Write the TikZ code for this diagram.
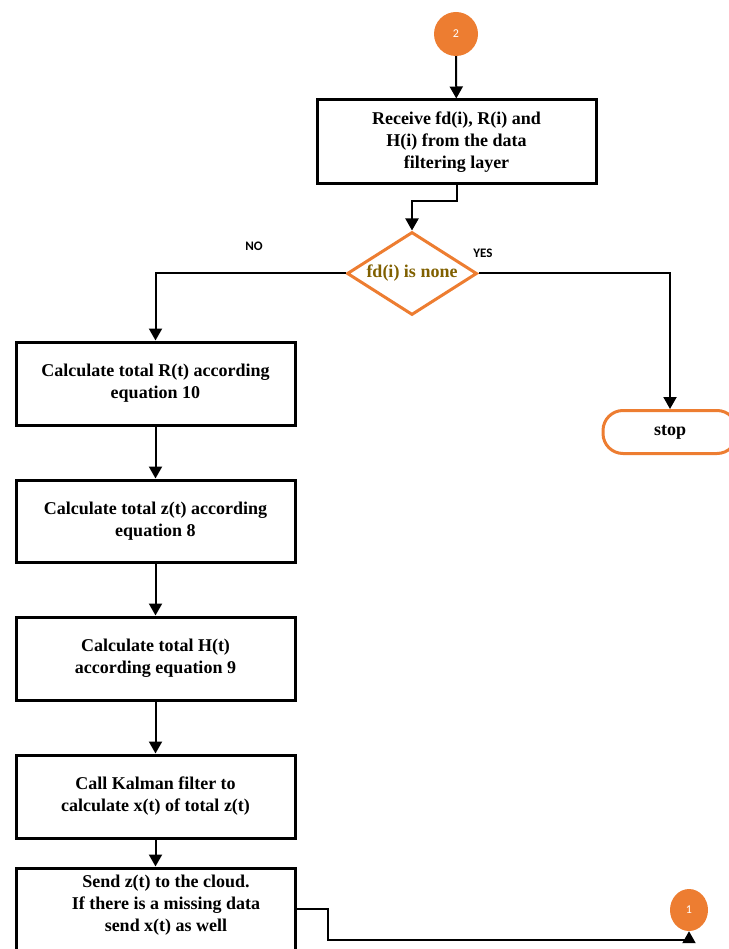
\documentclass[tikz,border=0pt]{standalone}
\usepackage{fontspec}
\setmainfont{Liberation Serif}
\newfontfamily\labfont{Carlito}
\usetikzlibrary{arrows.meta,shapes.geometric}
\definecolor{orng}{HTML}{ED7D31}
\definecolor{decol}{HTML}{806000}
\begin{document}
\begin{tikzpicture}[x=1pt,y=-1pt,
  procbox/.style={draw=black,line width=3pt,rectangle,minimum width=279pt,align=center,inner sep=0pt,
    font=\fontsize{18}{22}\selectfont\bfseries},
  conn/.style={line width=2pt,-{Triangle[width=13pt,length=12pt]}},
  decbox/.style={draw=orng,line width=3pt,diamond,minimum width=130pt,minimum height=83pt,aspect=1.56,inner sep=0pt,
    text=decol,font=\fontsize{18}{20}\selectfont\bfseries},
  endbox/.style={draw=orng,line width=3pt,rectangle,rounded corners=20pt,minimum width=134pt,minimum height=43pt,
    font=\fontsize{18}{20}\selectfont\bfseries},
  connc/.style={fill=orng,draw=none,text=white,font=\labfont\fontsize{12}{14}\selectfont,inner sep=0pt},
  yn/.style={font=\labfont\bfseries\fontsize{13}{15}\selectfont,inner sep=0pt}
]
\useasboundingbox (0,0) rectangle (728,949);

\node[connc,circle,minimum size=44pt] (c2) at (456,34) {2};
\node[procbox,minimum height=84pt] (b1) at (456.5,142) {Receive fd(i), R(i) and\\H(i) from the data\\filtering layer};
\node[decbox] (dec) at (412,273.5) {fd(i) is none};
\node[yn] (no) at (254,246) {NO};
\node[yn] (yes) at (483,253) {YES};
\node[endbox] (stop) at (670,432) {stop};

\node[procbox,minimum height=83pt] (b2) at (155.5,383.5) {Calculate total R(t) according\\equation 10};
\node[procbox,minimum height=82pt] (b3) at (155.5,521) {Calculate total z(t) according\\equation 8};
\node[procbox,minimum height=83pt] (b4) at (155.5,658.5) {Calculate total H(t)\\according equation 9};
\node[procbox,minimum height=83pt] (b5) at (155.5,796.5) {Call Kalman filter to\\calculate x(t) of total z(t)};
\node[procbox,minimum height=92pt] (b6) at (155.5,914) {};
\node[font=\fontsize{18}{22}\selectfont\bfseries,align=center,inner sep=0pt] (b6t) at (166,905) {Send z(t) to the cloud.\\If there is a missing data\\send x(t) as well};
\node[connc,ellipse,minimum width=38pt,minimum height=42pt] (c1) at (689,910) {1};

\coordinate (k1) at (328,940);

\draw[conn] (c2) -- (b1);
\draw[conn] (b1.south) -- ++(0,16) -| (dec.north);
\draw[conn] (dec.west) -| (b2.north);
\draw[conn] (dec.east) -| (stop.north);
\draw[conn] (b2) -- (b3);
\draw[conn] (b3) -- (b4);
\draw[conn] (b4) -- (b5);
\draw[conn] (b5) -- (b6);
\draw[conn] ([yshift=5pt]b6.east) -| (k1) -| (c1.south);
\end{tikzpicture}
\end{document}
